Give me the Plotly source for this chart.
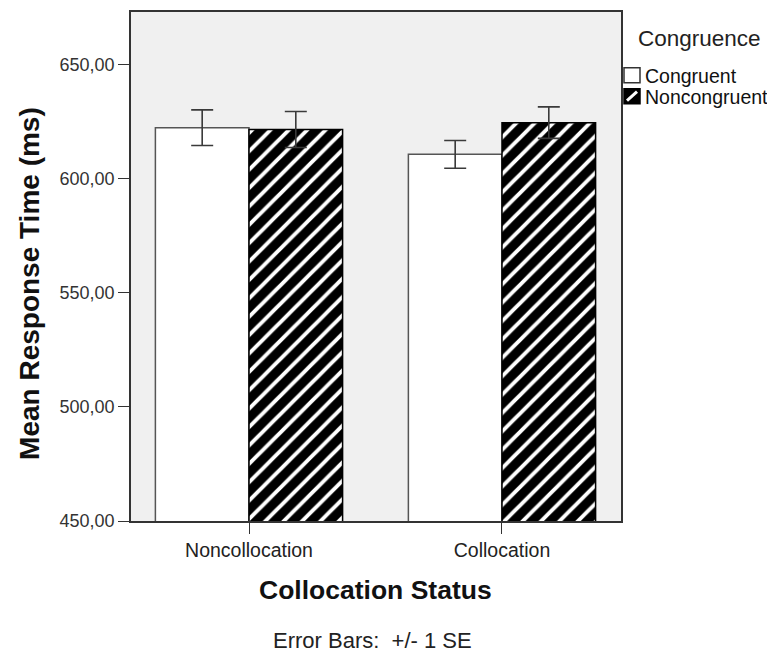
import plotly.graph_objects as go

categories = ["Noncollocation", "Collocation"]
congruent = [622.4, 610.7]
congruent_se = [7.8, 6.1]
noncongruent = [621.6, 624.6]
noncongruent_se = [7.9, 6.9]
y_ticks = [450, 500, 550, 600, 650]
y_tick_labels = ["450,00", "500,00", "550,00", "600,00", "650,00"]
legend_title = "Congruence"
series_names = ["Congruent", "Noncongruent"]

FONT = "Liberation Sans, Arial, sans-serif"
EDGE = "#555555"
ERR = "#3a3a3a"

# figure geometry (page is offset by the 8px body margin)
W, H = 767, 647
L, R, T, B = 123, 154, 2, 134
PW, PH = W - L - R, H - T - B
OFF = 8


def px(xp):  # page x pixel -> paper
    return (xp - OFF - L) / PW


def py(yp):  # page y pixel -> paper
    return (T + PH - (yp - OFF)) / PH


fig = go.Figure()
fig.add_trace(go.Bar(
    x=categories, y=congruent, name=series_names[0],
    marker=dict(color="white", line=dict(color=EDGE, width=1.5)),
    error_y=dict(type="data", array=congruent_se, color=ERR, thickness=1.6, width=11),
))
fig.add_trace(go.Bar(
    x=categories, y=noncongruent, name=series_names[1],
    marker=dict(color="black", line=dict(color="black", width=1.5),
                pattern=dict(shape="/", fgcolor="white", bgcolor="black",
                             size=13, solidity=0.3, fillmode="replace")),
    error_y=dict(type="data", array=noncongruent_se, color=ERR, thickness=1.6, width=11),
))

shapes = [
    # legend swatches
    dict(type="rect", xref="paper", yref="paper", x0=px(624), x1=px(640), y0=py(81), y1=py(66),
         fillcolor="white", line=dict(color="#333", width=1.5)),
    dict(type="rect", xref="paper", yref="paper", x0=px(624), x1=px(640), y0=py(102), y1=py(87),
         fillcolor="black", line=dict(color="black", width=1.5)),
    dict(type="line", xref="paper", yref="paper", x0=px(627), x1=px(637), y0=py(99), y1=py(90),
         line=dict(color="white", width=3)),
]

annotations = [
    dict(text=legend_title, xref="paper", yref="paper", x=px(636), y=py(37),
         xanchor="left", yanchor="middle", showarrow=False,
         font=dict(size=22.5, family=FONT, color="#222")),
    dict(text=series_names[0], xref="paper", yref="paper", x=px(643), y=py(74),
         xanchor="left", yanchor="middle", showarrow=False,
         font=dict(size=19.5, family=FONT, color="#111")),
    dict(text=series_names[1], xref="paper", yref="paper", x=px(643), y=py(95),
         xanchor="left", yanchor="middle", showarrow=False,
         font=dict(size=19.5, family=FONT, color="#111")),
    dict(text="<b>Collocation Status</b>", xref="paper", yref="paper", x=px(375), y=py(590),
         xanchor="center", yanchor="middle", showarrow=False,
         font=dict(size=26.5, family=FONT, color="#111")),
    dict(text="<b>Mean Response Time (ms)</b>", xref="paper", yref="paper", x=px(30), y=py(283),
         xanchor="center", yanchor="middle", showarrow=False, textangle=-90,
         font=dict(size=28, family=FONT, color="#111")),
    dict(text="Error Bars:  +/- 1 SE", xref="paper", yref="paper", x=px(372), y=py(641),
         xanchor="center", yanchor="middle", showarrow=False,
         font=dict(size=22, family=FONT, color="#222")),
]

fig.update_layout(
    width=W, height=H,
    margin=dict(l=L, r=R, t=T, b=B),
    paper_bgcolor="white", plot_bgcolor="#f0f0f0",
    barmode="group", bargap=0.26, bargroupgap=0,
    font=dict(family=FONT, color="#222222"),
    showlegend=False,
    xaxis=dict(
        type="category", range=[-0.4664, 1.4704],
        showline=True, linecolor="#333", linewidth=1.5, mirror=True,
        ticks="outside", ticklen=11, tickwidth=1.3, tickcolor="#333",
        tickfont=dict(size=19.5, family=FONT, color="#222"),
    ),
    yaxis=dict(
        range=[450, 673.1], tickvals=y_ticks, ticktext=y_tick_labels,
        showgrid=False, zeroline=False,
        showline=True, linecolor="#333", linewidth=1.5, mirror=True,
        ticks="outside", ticklen=11, tickwidth=1.3, tickcolor="#333",
        tickfont=dict(size=18, family=FONT, color="#333"),
    ),
    shapes=shapes,
    annotations=annotations,
)

fig.write_html("out.html")
